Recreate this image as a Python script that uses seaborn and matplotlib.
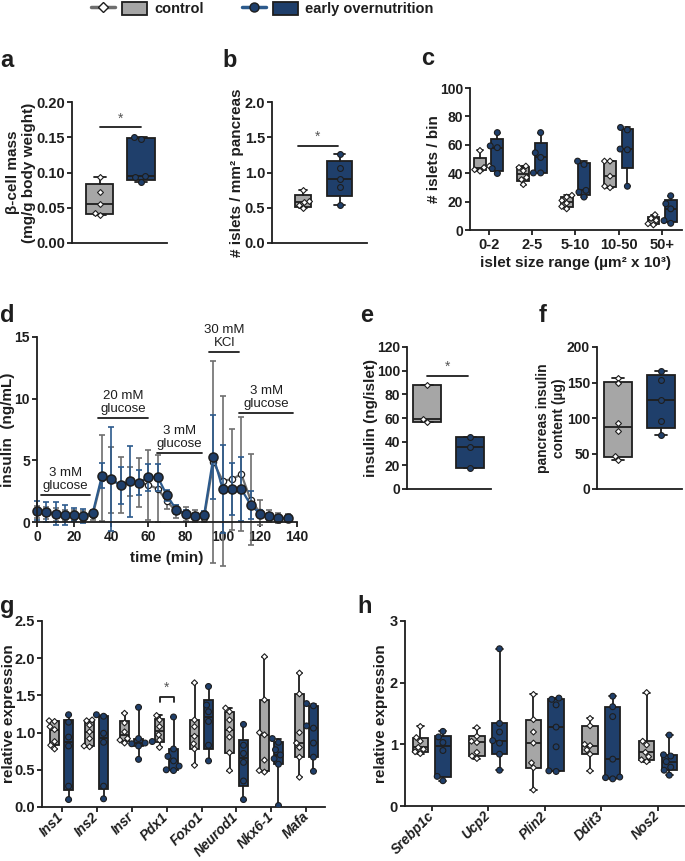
import numpy as np
import pandas as pd
import matplotlib
matplotlib.use("Agg")
import matplotlib.pyplot as plt
import seaborn as sns
from matplotlib.lines import Line2D
from matplotlib.patches import Patch
from matplotlib.legend_handler import HandlerTuple

# ---- data ----
GROUPS = ["control", "early overnutrition"]

A_CTRL = [0.094, 0.073, 0.056, 0.043, 0.040]
A_OVER = [0.151, 0.147, 0.095, 0.093, 0.087]

B_CTRL = [0.75, 0.60, 0.58, 0.54, 0.49]
B_OVER = [1.26, 1.07, 0.91, 0.79, 0.54]

C_BINS = ["0-2", "2-5", "5-10", "10-50", "50+"]
C_CTRL = [[56, 45, 44, 42.5, 41.5],
          [45, 44, 41.7, 37, 35.5, 32],
          [24.4, 23.2, 20.8, 18.9, 16.6, 14.9],
          [48.5, 48.5, 37.9, 30.8, 29.8],
          [10.8, 8.2, 6.8, 4.4, 3.6]]
C_OVER = [[68.6, 59.2, 58, 43.3, 39.8],
          [68.6, 54.4, 51.1, 40.2, 40.2],
          [48.5, 46.2, 27.9, 26.7, 23.2],
          [72.2, 70.5, 57, 56.5, 30.8],
          [24.1, 18.5, 14.9, 6.6, 4.7]]

D_TIME = [0, 5, 10, 15, 20, 25, 30, 35, 40, 45, 50, 55, 60, 65, 70,
          75, 80, 85, 90, 95, 100, 105, 110, 115, 120, 125, 130, 135]
D_CTRL_MEAN = [0.80, 0.72, 0.62, 0.56, 0.52, 0.47, 0.55, 3.55, 3.40, 3.00, 3.30, 3.20, 3.00, 2.70,
               1.67, 0.86, 0.67, 0.46, 0.35, 4.85, 3.34, 3.47, 3.88, 1.80, 0.78, 0.46, 0.32, 0.32]
D_CTRL_SD = [0.50, 0.50, 0.50, 0.45, 0.45, 0.40, 0.35, 3.50, 2.70, 2.30, 1.20, 1.96, 2.80, 2.70,
             0.60, 0.55, 0.55, 0.50, 0.35, 8.20, 6.90, 4.10, 4.60, 3.70, 1.00, 0.50, 0.40, 0.35]
D_OVER_MEAN = [0.92, 0.81, 0.67, 0.59, 0.59, 0.51, 0.73, 3.77, 3.50, 2.96, 3.29, 3.20, 3.64, 3.64,
               2.15, 1.00, 0.67, 0.51, 0.59, 5.30, 2.67, 2.67, 2.67, 1.40, 0.67, 0.46, 0.32, 0.32]
D_OVER_SD = [0.75, 0.81, 0.92, 0.81, 0.54, 0.57, 0.27, 1.05, 4.20, 1.50, 2.90, 1.00, 1.10, 1.10,
             0.45, 0.35, 0.30, 0.25, 0.30, 3.40, 3.56, 2.10, 2.60, 1.15, 0.30, 0.30, 0.25, 0.25]
D_STEP_LABELS = ["3 mM\nglucose", "20 mM\nglucose", "3 mM\nglucose", "30 mM\nKCl", "3 mM\nglucose"]
D_STEP_START = [2, 33, 64.5, 92.5, 109]
D_STEP_END = [28.5, 60, 89, 109, 138]
D_STEP_Y = [2.2, 8.45, 5.6, 13.8, 8.85]

E_CTRL = [87.6, 59.3, 56.5]
E_OVER = [44.0, 35.3, 17.5]

F_CTRL = [157, 149, 92.7, 81.9, 47, 41]
F_OVER = [166.6, 153.9, 125.6, 96, 76.2]

G_GENES = ["Ins1", "Ins2", "Insr", "Pdx1", "Foxo1", "Neurod1", "Nkx6-1", "Mafa"]
G_CTRL = [[0.78, 0.83, 0.88, 1.04, 1.08, 1.15, 1.16],
          [0.81, 0.82, 0.92, 1.01, 1.10, 1.16, 1.17],
          [0.86, 0.90, 0.92, 1.01, 1.13, 1.26],
          [0.80, 0.90, 0.97, 1.08, 1.17, 1.23],
          [0.56, 0.78, 0.85, 0.95, 1.08, 1.17, 1.67],
          [0.49, 0.73, 0.94, 1.04, 1.17, 1.28, 1.33],
          [0.47, 0.49, 0.63, 0.97, 1.00, 1.44, 2.02],
          [0.40, 0.67, 0.80, 0.86, 1.00, 1.52, 1.80]]
G_OVER = [[0.10, 0.28, 0.82, 0.94, 1.14, 1.24],
          [0.11, 0.28, 0.87, 0.99, 1.22, 1.24],
          [0.64, 0.82, 0.85, 0.86, 0.88, 0.92, 1.34],
          [0.49, 0.50, 0.55, 0.62, 0.68, 0.78, 1.21],
          [0.62, 0.83, 1.15, 1.28, 1.37, 1.62],
          [0.10, 0.35, 0.60, 0.72, 0.83, 1.11],
          [0.02, 0.575, 0.65, 0.70, 0.77, 0.87, 0.92],
          [0.48, 0.67, 0.86, 1.06, 1.09, 1.36, 1.39]]

H_GENES = ["Srebp1c", "Ucp2", "Plin2", "Ddit3", "Nos2"]
H_CTRL = [[0.85, 0.88, 0.92, 0.95, 1.05, 1.11, 1.29],
          [0.77, 0.81, 0.87, 1.03, 1.05, 1.13, 1.27],
          [0.26, 0.62, 0.70, 1.02, 1.20, 1.40, 1.81],
          [0.57, 0.84, 0.91, 0.98, 1.00, 1.30, 1.42],
          [0.72, 0.75, 0.80, 0.87, 0.99, 1.05, 1.84]]
H_OVER = [[0.41, 0.48, 0.90, 1.03, 1.12, 1.21],
          [0.58, 0.84, 1.02, 1.06, 1.20, 1.34, 2.55],
          [0.56, 0.57, 0.96, 1.28, 1.64, 1.73, 1.75],
          [0.44, 0.46, 0.47, 0.76, 1.45, 1.61, 1.78],
          [0.50, 0.58, 0.63, 0.72, 0.81, 0.83, 1.15]]

# ---- style ----
GRAY = "#A6A6A6"
BLUE = "#1F3F6B"
EDGE = "#1E1E1E"
GRAY_LINE = "#6E6E6E"
BLUE_LINE = "#2C5A8C"
OFF = 0.2   # seaborn's dodge offset for two hue levels

sns.set_style("ticks")
plt.rcParams["font.family"] = ["Liberation Sans", "DejaVu Sans"]
plt.rcParams.update({
    "font.weight": "bold", "axes.labelweight": "bold", "font.size": 11,
    "axes.linewidth": 1.3, "axes.edgecolor": EDGE, "axes.labelcolor": EDGE,
    "text.color": EDGE, "xtick.color": EDGE, "ytick.color": EDGE,
    "xtick.major.width": 1.3, "ytick.major.width": 1.3,
    "xtick.major.size": 3.5, "ytick.major.size": 3.5,
    "xtick.major.pad": 2, "ytick.major.pad": 1.5,
    "xtick.labelsize": 10.5, "ytick.labelsize": 10.5,
})

W, H = 685, 861
fig = plt.figure(figsize=(W / 100, H / 100), dpi=100)


def px_axes(l, t, r, b):
    ax = fig.add_axes([l / W, 1 - b / H, (r - l) / W, (b - t) / H])
    sns.despine(ax=ax)
    return ax


def place_ylabel(ax, right_px, axis_px, width_px):
    # right edge of the y label, in pixels of the figure
    ax.yaxis.set_label_coords((right_px - axis_px) / width_px, 0.5)


def box_stats(vals):
    v = np.asarray(vals, float)
    # GraphPad style quartiles
    q1, med, q3 = np.percentile(v, [25, 50, 75], method="weibull")
    return dict(med=med, q1=q1, q3=q3, whislo=v.min(), whishi=v.max(), fliers=[])


def draw_boxes(ax, groups, positions, widths, colors):
    widths = list(np.broadcast_to(widths, len(groups)))
    bp = ax.bxp([box_stats(g) for g in groups], positions=positions, widths=widths,
                capwidths=[w * 0.45 for w in widths], patch_artist=True, showfliers=False,
                manage_ticks=False,
                boxprops=dict(edgecolor=EDGE, linewidth=1.3),
                medianprops=dict(color=EDGE, linewidth=1.3),
                whiskerprops=dict(color=EDGE, linewidth=1.3),
                capprops=dict(color=EDGE, linewidth=1.3))
    for patch, c in zip(bp["boxes"], colors):
        patch.set_facecolor(c)


def long_frame(cats, ctrl, over):
    rows = []
    for cat, cv, ov in zip(cats, ctrl, over):
        rows += [(cat, "control", v) for v in cv]
        rows += [(cat, "early overnutrition", v) for v in ov]
    return pd.DataFrame(rows, columns=["cat", "group", "value"])


def add_points(ax, df, x, order, dodge):
    styles = {"control": ("white", "D", 3.0), "early overnutrition": (BLUE, "o", 4.2)}
    for grp in GROUPS:
        color, marker, size = styles[grp]
        sub = df[df["group"] == grp]
        if dodge:
            kw = dict(hue="group", hue_order=GROUPS, dodge=True,
                      palette={"control": "white", "early overnutrition": BLUE}, legend=False)
        else:
            kw = dict(color=color)
        sns.swarmplot(data=sub, x=x, y="value", order=order, marker=marker, size=size,
                      edgecolor=EDGE, linewidth=0.8, zorder=3, ax=ax, **kw)


def pair_panel(ax, ctrl, over, widths, xlim, ylim, yticks, fmt, ylabel, label_size=11):
    draw_boxes(ax, [ctrl, over], [0, 1], widths, [GRAY, BLUE])
    df = long_frame(["x"], [ctrl], [over])
    add_points(ax, df, "group", GROUPS, dodge=False)
    ax.set_xlim(*xlim)
    ax.set_ylim(*ylim)
    ax.set_xticks([])
    ax.set_yticks(yticks)
    ax.set_yticklabels([fmt.format(t) for t in yticks])
    ax.set_xlabel("")
    ax.set_ylabel(ylabel, fontsize=label_size)


def grouped_panel(ax, cats, ctrl, over, xlim, ylim, yticks, fmt, ylabel):
    pos = np.arange(len(cats))
    draw_boxes(ax, ctrl, pos - OFF, 0.27, [GRAY] * len(cats))
    draw_boxes(ax, over, pos + OFF, 0.27, [BLUE] * len(cats))
    df = long_frame(cats, ctrl, over)
    add_points(ax, df, "cat", cats, dodge=True)
    ax.set_xlim(*xlim)
    ax.set_ylim(*ylim)
    ax.set_xticks(pos)
    ax.set_yticks(yticks)
    ax.set_yticklabels([fmt.format(t) for t in yticks])
    ax.set_xlabel("")
    ax.set_ylabel(ylabel)


def gene_labels(ax, genes):
    ax.set_xticklabels(genes, rotation=45, ha="right", va="center", rotation_mode="anchor",
                       fontstyle="italic", fontweight="bold", fontsize=9.8)
    ax.tick_params(axis="x", pad=2)


def sig_bar(ax, x0, x1, y, ystar, leg=None):
    if leg is None:
        ax.plot([x0, x1], [y, y], color=EDGE, lw=1.3, clip_on=False)
    else:
        ax.plot([x0, x0, x1, x1], [y - leg, y, y, y - leg], color=EDGE, lw=1.3, clip_on=False)
    ax.text((x0 + x1) / 2, ystar, "*", ha="center", va="center", fontsize=10,
            fontweight="normal", color="#555555")


# a
ax = px_axes(72, 102, 167, 243)
pair_panel(ax, A_CTRL, A_OVER, [0.65, 0.66], (-0.67, 1.63), (0, 0.2),
           [0, 0.05, 0.10, 0.15, 0.20], "{:.2f}", "β-cell mass\n(mg/g body weight)")
place_ylabel(ax, 36, 72, 95)
sig_bar(ax, 0, 1, 0.164, 0.176)

# b
ax = px_axes(272, 102, 367, 243)
pair_panel(ax, B_CTRL, B_OVER, [0.46, 0.70], (-0.85, 1.75), (0, 2.0),
           [0, 0.5, 1.0, 1.5, 2.0], "{:.1f}", "# islets / mm² pancreas")
place_ylabel(ax, 244, 272, 95)
sig_bar(ax, -0.15, 0.95, 1.38, 1.5)

# c
ax = px_axes(470, 88, 682, 230)
grouped_panel(ax, C_BINS, C_CTRL, C_OVER, (-0.43, 4.46), (0, 100),
              [0, 20, 40, 60, 80, 100], "{:d}", "# islets / bin")
place_ylabel(ax, 441, 470, 212)
ax.tick_params(labelsize=10)
ax.set_xticklabels(C_BINS, fontweight="bold", fontsize=10.5)
ax.set_xlabel("islet size range (µm² x 10³)", labelpad=3)

# d
ax = px_axes(37, 337, 297, 522)
ax.errorbar(D_TIME, D_CTRL_MEAN, yerr=D_CTRL_SD, fmt="none", ecolor=GRAY_LINE,
            elinewidth=1.2, capsize=2.5, capthick=1.2, clip_on=False)
sns.lineplot(x=D_TIME, y=D_CTRL_MEAN, color=GRAY_LINE, lw=1.6, marker="o", markersize=4.5,
             markerfacecolor="white", markeredgecolor=EDGE, markeredgewidth=0.9,
             clip_on=False, ax=ax)
ax.errorbar(D_TIME, D_OVER_MEAN, yerr=D_OVER_SD, fmt="none", ecolor=BLUE_LINE,
            elinewidth=1.2, capsize=2.5, capthick=1.2, clip_on=False)
sns.lineplot(x=D_TIME, y=D_OVER_MEAN, color=BLUE_LINE, lw=1.6, marker="o", markersize=6.5,
             markerfacecolor=BLUE, markeredgecolor=EDGE, markeredgewidth=1.1,
             clip_on=False, ax=ax)
for lab, t0, t1, yl in zip(D_STEP_LABELS, D_STEP_START, D_STEP_END, D_STEP_Y):
    ax.plot([t0, t1], [yl, yl], color=EDGE, lw=1.3, clip_on=False)
    ax.text((t0 + t1) / 2, yl + 0.2, lab, ha="center", va="bottom", fontsize=9.5,
            fontweight="normal", linespacing=1.15)
ax.set_xlim(0, 140)
ax.set_ylim(0, 15)
ax.set_xticks([0, 20, 40, 60, 80, 100, 120, 140])
ax.set_yticks([0, 5, 10, 15])
ax.tick_params(labelsize=10)
ax.set_xlabel("time (min)", labelpad=5)
ax.set_ylabel("insulin  (ng/mL)")
place_ylabel(ax, 15, 37, 260)

# e
ax = px_axes(407, 347, 491, 489)
pair_panel(ax, E_CTRL, E_OVER, 0.65, (-0.47, 1.49), (0, 120),
           [0, 20, 40, 60, 80, 100, 120], "{:d}", "insulin (ng/islet)")
ax.tick_params(labelsize=10)
place_ylabel(ax, 378, 407, 84)
sig_bar(ax, 0, 0.95, 95.2, 103)

# f
ax = px_axes(597, 347, 682, 489)
pair_panel(ax, F_CTRL, F_OVER, 0.65, (-0.49, 1.49), (0, 200),
           [0, 50, 100, 150, 200], "{:d}", "pancreas insulin\ncontent (µg)", label_size=10)
ax.tick_params(labelsize=10)
place_ylabel(ax, 566, 597, 85)

# g
ax = px_axes(42, 621, 325, 807)
grouped_panel(ax, G_GENES, G_CTRL, G_OVER, (-0.56, 7.53), (0, 2.5),
              [0, 0.5, 1.0, 1.5, 2.0, 2.5], "{:.1f}", "relative expression")
gene_labels(ax, G_GENES)
place_ylabel(ax, 16, 42, 283)
sig_bar(ax, 3 - OFF, 3 + OFF, 1.48, 1.60, leg=0.07)

# h
ax = px_axes(405, 621, 684, 806)
grouped_panel(ax, H_GENES, H_CTRL, H_OVER, (-0.47, 4.46), (0, 3),
              [0, 1, 2, 3], "{:d}", "relative expression")
gene_labels(ax, H_GENES)
place_ylabel(ax, 388, 405, 279)

# panel letters
for letter, x, y in [("a", 0, 67), ("b", 222, 67), ("c", 421, 65), ("d", 0, 322),
                     ("e", 360, 322), ("f", 539, 322), ("g", 0, 613), ("h", 357, 613)]:
    fig.text(x / W, 1 - y / H, letter, fontsize=17, fontweight="bold", va="baseline", ha="left")

# legend
h_ctrl = (Line2D([], [], color=GRAY_LINE, lw=2.5, marker="D", markersize=5.5,
                 markerfacecolor="white", markeredgecolor=EDGE),
          Patch(facecolor=GRAY, edgecolor=EDGE, linewidth=1.3))
h_over = (Line2D([], [], color=BLUE_LINE, lw=2.5, marker="o", markersize=6.5,
                 markerfacecolor=BLUE, markeredgecolor=EDGE),
          Patch(facecolor=BLUE, edgecolor=EDGE, linewidth=1.3))
fig.legend([h_ctrl, h_over], GROUPS, handler_map={tuple: HandlerTuple(ndivide=None, pad=0.45)},
           loc="center", bbox_to_anchor=(262 / W, 1 - 9 / H), ncol=2, frameon=False,
           handlelength=3.85, handleheight=1.0, columnspacing=2.6, handletextpad=0.5,
           prop=dict(weight="bold", size=10.5))

fig.savefig("out.png", dpi=100)
